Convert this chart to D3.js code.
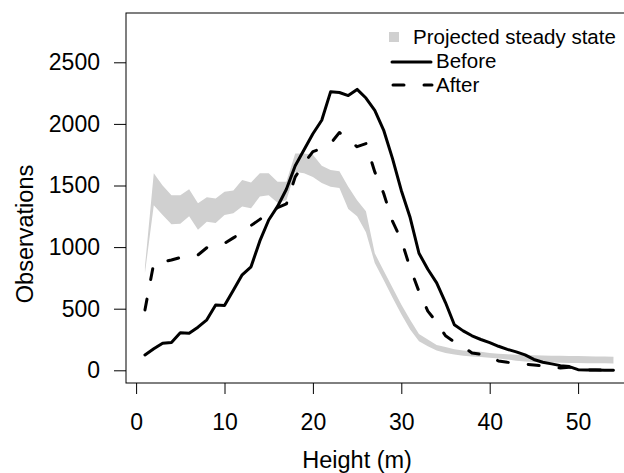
<!DOCTYPE html>
<html>
<head>
<meta charset="utf-8">
<script src="https://cdn.jsdelivr.net/npm/d3@7"></script>
<style>
  html, body { margin: 0; padding: 0; background: #fff; }
  svg { display: block; }
  text { font-family: "Liberation Sans", Arial, Helvetica, sans-serif; fill: #000; }
</style>
</head>
<body>
<svg id="chart" width="624" height="473"></svg>
<script>
// ---- data ----
const heights = [1,2,3,4,5,6,7,8,9,10,11,12,13,14,15,16,17,18,19,20,21,22,23,24,25,26,27,
                 28,29,30,31,32,33,34,35,36,37,38,39,40,41,42,43,44,45,46,47,48,49,50,51,52,53,54];
const before = [125,175,220,225,305,300,350,410,530,525,650,775,840,1050,1220,1330,1470,1660,1790,1920,
                2030,2260,2255,2230,2280,2210,2110,1950,1720,1460,1240,950,820,710,550,370,320,280,250,225,
                195,170,150,125,88,65,52,38,30,5,3,2,1,0];
const after = [490,870,880,895,915,925,936,995,1015,1030,1075,1120,1175,1225,1280,1320,1350,1570,1680,1775,
               1800,1840,1930,1870,1815,1840,1610,1437,1210,1058,830,640,480,390,280,230,190,140,130,120,
               75,65,58,50,43,35,29,18,25,5,3,2,1,0];
const steadyLower = [790,1340,1260,1185,1190,1250,1140,1205,1195,1260,1275,1330,1315,1410,1420,1360,1380,1610,1600,1570,
                     1520,1490,1480,1310,1250,1120,870,733,590,455,332,235,195,160,140,128,118,112,107,102,
                     95,88,78,72,68,65,63,62,60,59,58,57,57,56];
const steadyUpper = [840,1600,1500,1420,1420,1470,1355,1405,1395,1450,1460,1545,1525,1600,1600,1530,1530,1760,1760,1750,
                     1660,1625,1615,1490,1380,1290,950,810,672,534,411,295,250,205,190,170,160,155,150,140,
                     135,130,127,125,122,120,119,118,117,116,114,113,112,110];
const xTicks = [0,10,20,30,40,50];
const yTicks = [0,500,1000,1500,2000,2500];
const legendLabels = ["Projected steady state","Before","After"];
const xTitle = "Height (m)";
const yTitle = "Observations";

// ---- scales ----
const x = d3.scaleLinear().domain([0, 50]).range([136.1, 578.1]);
const y = d3.scaleLinear().domain([0, 2500]).range([370.3, 62.3]);

const svg = d3.select("#chart");
const box = {left: 126, top: 13, bottom: 383, right: 700};

const rows = heights.map((h, i) => ({h, b: before[i], a: after[i], lo: steadyLower[i], hi: steadyUpper[i]}));

// band
svg.append("path")
  .datum(rows)
  .attr("fill", "#d0d0d0")
  .attr("d", d3.area().x(d => x(d.h)).y0(d => y(d.lo)).y1(d => y(d.hi)));

// lines
svg.append("path")
  .datum(rows)
  .attr("fill", "none").attr("stroke", "#000").attr("stroke-width", 3)
  .attr("stroke-linejoin", "round").attr("stroke-linecap", "round")
  .attr("d", d3.line().x(d => x(d.h)).y(d => y(d.b)));

svg.append("path")
  .datum(rows)
  .attr("fill", "none").attr("stroke", "#000").attr("stroke-width", 3)
  .attr("stroke-linejoin", "round").attr("stroke-linecap", "round")
  .attr("stroke-dasharray", "11,20")
  .attr("d", d3.line().x(d => x(d.h)).y(d => y(d.a)));

// box
svg.append("rect")
  .attr("x", box.left).attr("y", box.top)
  .attr("width", box.right - box.left).attr("height", box.bottom - box.top)
  .attr("fill", "none").attr("stroke", "#000").attr("stroke-width", 1);

// axes
const xAxis = d3.axisBottom(x).tickValues(xTicks).tickSize(11).tickPadding(20).tickFormat(d3.format("d"));
const gx = svg.append("g").attr("transform", `translate(0,${box.bottom})`).call(xAxis);
gx.select(".domain").remove();
gx.selectAll("line").attr("stroke", "#000");
gx.selectAll("text").attr("font-size", 23).attr("font-family", '"Liberation Sans", Arial, sans-serif');

const yAxis = d3.axisLeft(y).tickValues(yTicks).tickSize(12).tickPadding(14).tickFormat(d3.format("d"));
const gy = svg.append("g").attr("transform", `translate(${box.left},0)`).call(yAxis);
gy.select(".domain").remove();
gy.selectAll("line").attr("stroke", "#000");
gy.selectAll("text").attr("font-size", 23).attr("font-family", '"Liberation Sans", Arial, sans-serif');

// titles
svg.append("text").attr("x", x(25)).attr("y", 468).attr("text-anchor", "middle")
  .attr("font-size", 23.5).text(xTitle);
svg.append("text").attr("transform", `translate(33,${(box.top + box.bottom) / 2 + 36}) rotate(-90)`)
  .attr("text-anchor", "middle").attr("font-size", 23.5).text(yTitle);

// legend
const lg = svg.append("g");
lg.append("rect").attr("x", 389).attr("y", 32).attr("width", 10).attr("height", 10).attr("fill", "#d0d0d0");
lg.append("text").attr("x", 413).attr("y", 44).attr("font-size", 20.5).text(legendLabels[0]);
lg.append("line").attr("x1", 392).attr("x2", 431).attr("y1", 62).attr("y2", 62)
  .attr("stroke", "#000").attr("stroke-width", 3).attr("stroke-linecap", "round");
lg.append("text").attr("x", 436).attr("y", 68).attr("font-size", 20.5).text(legendLabels[1]);
lg.append("line").attr("x1", 393).attr("x2", 432).attr("y1", 85).attr("y2", 85)
  .attr("stroke", "#000").attr("stroke-width", 3).attr("stroke-linecap", "round")
  .attr("stroke-dasharray", "11,20");
lg.append("text").attr("x", 436).attr("y", 92).attr("font-size", 20.5).text(legendLabels[2]);
</script>
</body>
</html>
